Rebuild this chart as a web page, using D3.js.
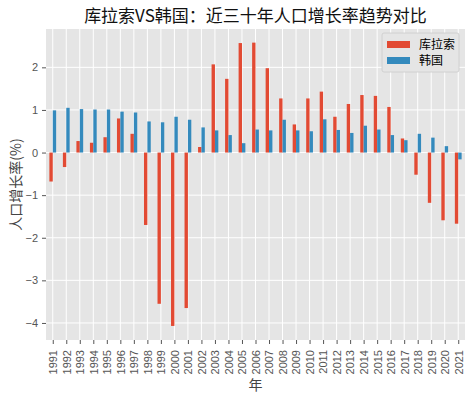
<!DOCTYPE html>
<html>
<head>
<meta charset="utf-8">
<script src="https://cdn.jsdelivr.net/npm/d3@7"></script>
<style>
  body { margin: 0; background: #fff; }
  svg text { font-family: "Noto Sans CJK SC", "DejaVu Sans", sans-serif; }
  .tick text { font-family: "Liberation Sans", "DejaVu Sans", sans-serif; }
</style>
</head>
<body>
<div id="chart"></div>
<script>
// years on the x axis
var years = [
    "1991","1992","1993","1994","1995","1996","1997","1998","1999","2000",
    "2001","2002","2003","2004","2005","2006","2007","2008","2009","2010",
    "2011","2012","2013","2014","2015","2016","2017","2018","2019","2020","2021"
];

// population growth rate (%) - Curacao
var curacao = [
    -0.68, -0.34, 0.27, 0.23, 0.36, 0.80, 0.44, -1.70, -3.55, -4.07,
    -3.65, 0.13, 2.07, 1.73, 2.57, 2.58, 1.98, 1.27, 0.66, 1.27,
    1.43, 0.84, 1.14, 1.35, 1.33, 1.07, 0.33, -0.52, -1.18, -1.59, -1.67
];

// population growth rate (%) - South Korea
var korea = [
    0.99, 1.05, 1.02, 1.01, 1.01, 0.96, 0.94, 0.73, 0.71, 0.84,
    0.77, 0.59, 0.52, 0.41, 0.22, 0.54, 0.52, 0.77, 0.52, 0.50,
    0.78, 0.53, 0.46, 0.63, 0.54, 0.41, 0.29, 0.44, 0.35, 0.15, -0.16
];

var seriesNames = ["库拉索", "韩国"];
var seriesColors = ["#E24A33", "#348ABD"];
var yTicks = [-4, -3, -2, -1, 0, 1, 2];

var W = 474, H = 399;
var margin = {top: 29, right: 9, bottom: 59, left: 46};
var width = W - margin.left - margin.right,
    height = H - margin.top - margin.bottom;

var svg = d3.select("#chart").append("svg")
    .attr("width", W)
    .attr("height", H);

var g = svg.append("g")
    .attr("transform", "translate(" + margin.left + "," + margin.top + ")");

// pandas-style bar positions: index i, xlim [-0.5, n - 0.5]
var x = d3.scaleLinear()
    .domain([-0.5, years.length - 0.5])
    .range([0, width]);

var y = d3.scaleLinear()
    .domain([-4.4, 2.9])
    .range([height, 0]);

// background
g.append("rect")
    .attr("width", width)
    .attr("height", height)
    .attr("fill", "#E5E5E5");

// grid
g.selectAll(".vgrid")
    .data(years)
    .enter().append("line")
    .attr("x1", function (d, i) { return x(i); })
    .attr("x2", function (d, i) { return x(i); })
    .attr("y1", 0)
    .attr("y2", height)
    .attr("stroke", "#fff")
    .attr("stroke-width", 1);

g.selectAll(".hgrid")
    .data(yTicks)
    .enter().append("line")
    .attr("x1", 0)
    .attr("x2", width)
    .attr("y1", function (d) { return y(d); })
    .attr("y2", function (d) { return y(d); })
    .attr("stroke", "#fff")
    .attr("stroke-width", 1);

// bars
var barW = 0.25;
var allSeries = [curacao, korea];
allSeries.forEach(function (vals, s) {
    g.selectAll(".bar" + s)
        .data(vals)
        .enter().append("rect")
        .attr("x", function (d, i) { return x(i - barW + s * barW); })
        .attr("width", x(barW) - x(0))
        .attr("y", function (d) { return y(Math.max(0, d)); })
        .attr("height", function (d) { return Math.abs(y(d) - y(0)); })
        .attr("fill", seriesColors[s]);
});

// y axis
var yAxis = g.append("g")
    .call(d3.axisLeft(y).tickValues(yTicks).tickSize(4).tickPadding(4)
        .tickFormat(function (d) { return d < 0 ? "\u2212" + Math.abs(d) : d; }));
yAxis.select(".domain").remove();
yAxis.selectAll("line").attr("stroke", "#555");
yAxis.selectAll("text").attr("fill", "#555").style("font-size", "11px");

// x axis
var xAxis = g.append("g")
    .attr("transform", "translate(0," + height + ")")
    .call(d3.axisBottom(x).tickValues(d3.range(years.length)).tickSize(4).tickPadding(2)
        .tickFormat(function (i) { return years[i]; }));
xAxis.select(".domain").remove();
xAxis.selectAll("line").attr("stroke", "#555");
xAxis.selectAll("text")
    .attr("fill", "#555")
    .style("font-size", "11px")
    .attr("transform", "rotate(-90)")
    .attr("text-anchor", "end")
    .attr("dy", "0.35em")
    .attr("x", -10)
    .attr("y", 0);

// title and axis labels
svg.append("text")
    .attr("x", margin.left + width / 2)
    .attr("y", 22)
    .attr("text-anchor", "middle")
    .style("font-size", "17px")
    .attr("fill", "#111")
    .text("库拉索VS韩国：近三十年人口增长率趋势对比");

svg.append("text")
    .attr("x", margin.left + width / 2)
    .attr("y", 390)
    .attr("text-anchor", "middle")
    .style("font-size", "14px")
    .attr("fill", "#444")
    .text("年");

svg.append("text")
    .attr("transform", "translate(21," + (margin.top + height / 2) + ") rotate(-90)")
    .attr("text-anchor", "middle")
    .style("font-size", "14px")
    .attr("fill", "#444")
    .text("人口增长率(%)");

// legend
var legend = g.append("g")
    .attr("transform", "translate(" + (width - 83) + ",4)");
legend.append("rect")
    .attr("width", 77)
    .attr("height", 39)
    .attr("fill", "#E5E5E5")
    .attr("stroke", "#ccc")
    .attr("stroke-width", 0.8)
    .attr("rx", 2);
seriesNames.forEach(function (name, s) {
    legend.append("rect")
        .attr("x", 5)
        .attr("y", 8 + s * 16)
        .attr("width", 23)
        .attr("height", 7)
        .attr("fill", seriesColors[s]);
    legend.append("text")
        .attr("x", 37)
        .attr("y", 12 + s * 16)
        .attr("dy", "0.35em")
        .style("font-size", "12px")
        .attr("fill", "#000")
        .text(name);
});
</script>
</body>
</html>
